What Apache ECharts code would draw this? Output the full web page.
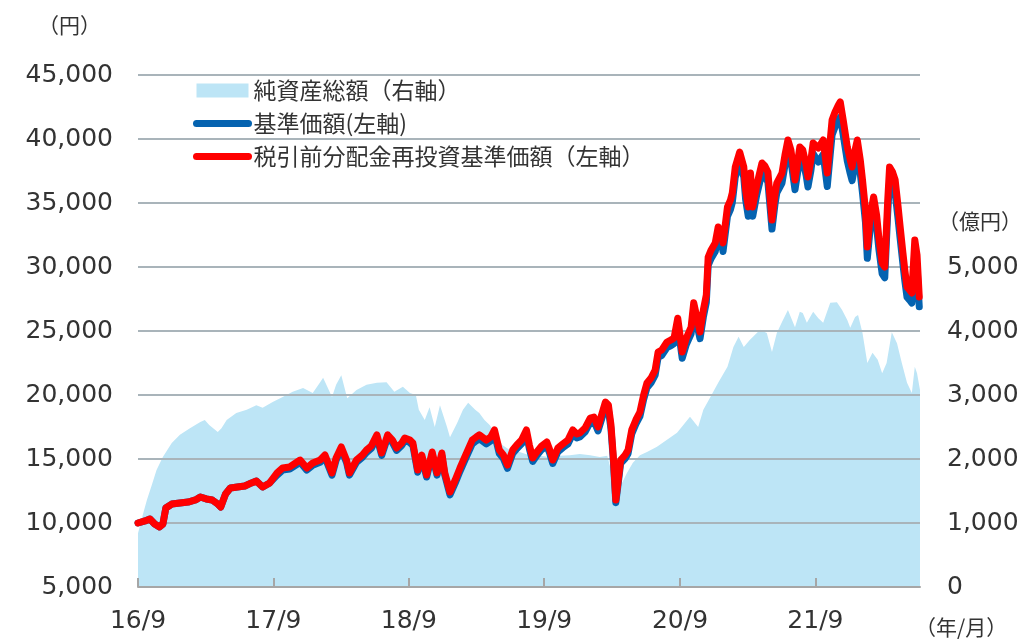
<!DOCTYPE html>
<html>
<head>
<meta charset="utf-8">
<title>基準価額・純資産総額の推移</title>
<script src="https://cdn.jsdelivr.net/npm/echarts/dist/echarts.min.js"></script>
<style>
  html, body { margin: 0; padding: 0; background: #fff; }
  #main { width: 1022px; height: 643px; }
</style>
</head>
<body>
<div id="main"></div>
<script>
// 基準価額 / 税引前分配金再投資基準価額 (円)
var priceDates = [
  '2016-09-01','2016-09-20','2016-10-03','2016-10-16','2016-10-29','2016-11-07','2016-11-15','2016-12-01','2016-12-23','2017-01-14',
  '2017-02-03','2017-02-16','2017-03-04','2017-03-20','2017-04-04','2017-04-12','2017-04-25','2017-05-08','2017-05-27','2017-06-16',
  '2017-07-04','2017-07-17','2017-08-03','2017-08-22','2017-09-11','2017-09-26','2017-10-15','2017-11-04','2017-11-12','2017-11-30',
  '2017-12-16','2018-01-05','2018-01-18','2018-02-06','2018-02-17','2018-03-03','2018-03-17','2018-03-25','2018-04-13','2018-04-29',
  '2018-05-10','2018-05-23','2018-06-07','2018-06-20','2018-07-06','2018-07-19','2018-07-30','2018-08-13','2018-08-21','2018-09-04',
  '2018-09-12','2018-09-25','2018-10-06','2018-10-19','2018-11-03','2018-11-16','2018-11-29','2018-12-07','2018-12-21','2019-01-04',
  '2019-01-17','2019-01-30','2019-02-19','2019-03-02','2019-03-10','2019-03-29','2019-04-10','2019-04-20','2019-05-03','2019-05-14',
  '2019-05-25','2019-06-08','2019-06-19','2019-07-02','2019-07-15','2019-07-23','2019-08-01','2019-08-12','2019-08-25','2019-09-08',
  '2019-09-16','2019-09-24','2019-10-08','2019-10-21','2019-11-04','2019-11-17','2019-11-28','2019-12-06','2019-12-20','2020-01-03',
  '2020-01-13','2020-01-24','2020-02-05','2020-02-13','2020-02-21','2020-02-28','2020-03-05','2020-03-12','2020-03-17','2020-03-25',
  '2020-04-06','2020-04-14','2020-04-24','2020-05-05','2020-05-16','2020-05-26','2020-06-04','2020-06-15','2020-06-26','2020-07-04',
  '2020-07-14','2020-07-28','2020-08-08','2020-08-16','2020-08-26','2020-09-07','2020-09-18','2020-10-01','2020-10-08','2020-10-17',
  '2020-10-25','2020-11-03','2020-11-11','2020-11-16','2020-11-24','2020-12-05','2020-12-13','2020-12-21','2020-12-26','2021-01-07',
  '2021-01-15','2021-01-20','2021-01-28','2021-02-09','2021-02-20','2021-02-25','2021-03-04','2021-03-10','2021-03-16','2021-03-27',
  '2021-04-10','2021-04-18','2021-04-26','2021-05-07','2021-05-15','2021-05-20','2021-06-03','2021-06-11','2021-06-19','2021-06-27',
  '2021-07-08','2021-07-16','2021-07-21','2021-07-29','2021-08-07','2021-08-12','2021-08-20','2021-08-26','2021-09-09','2021-09-22',
  '2021-10-03','2021-10-11','2021-10-16','2021-10-24','2021-11-02','2021-11-07','2021-11-15','2021-11-26','2021-12-04','2021-12-09',
  '2021-12-17','2021-12-23','2021-12-31','2022-01-06','2022-01-14','2022-01-19','2022-01-27','2022-02-05','2022-02-13','2022-02-19',
  '2022-02-28','2022-03-07','2022-03-15','2022-03-20','2022-03-28','2022-04-04','2022-04-12','2022-04-17','2022-04-25','2022-04-30',
  '2022-05-06','2022-05-13','2022-05-19','2022-05-24','2022-05-27','2022-06-02','2022-06-08'
];
var reinvestPrices = [
  10000,10160,10310,9920,9690,9920,11170,11480,11560,11640,
  11800,12030,11880,11800,11480,11250,12270,12730,12810,12890,
  13130,13280,12810,13130,13910,14300,14380,14770,14920,14300,
  14690,14920,15310,13910,15080,15940,14920,13910,14920,15310,
  15700,16020,16880,15470,16880,16480,15860,16250,16640,16480,
  16250,14140,15310,13750,15550,13910,15470,13910,12420,13360,
  14300,15160,16480,16720,16880,16480,16720,17270,15700,15310,
  14530,15700,16090,16480,17270,16090,15080,15550,16020,16330,
  15700,14920,15860,16170,16480,17270,16950,17030,17420,18200,
  18280,17500,18670,19450,19220,17660,15310,11800,12970,14920,
  15310,15700,17270,18050,18670,20000,20940,21330,21950,23360,
  23520,24140,24300,24450,26000,23360,24450,25310,27200,26020,
  24920,26640,27810,30780,31330,31880,33130,32730,31880,34690,
  35230,35780,37810,38980,37810,36020,34690,37340,34690,36410,
  38130,37890,37420,33670,35630,36560,37340,38750,39920,39140,
  36800,38360,39380,39140,37970,37030,38360,39690,39300,39920,
  37340,39920,41480,42110,42660,42900,41480,39380,38360,37810,
  39140,39920,38360,36800,34450,31560,34060,35470,34060,32340,
  30310,30000,35230,37810,37420,36800,34690,33280,31090,29770,
  28440,28200,27970,30550,32110,30940,27660
];
var basePrices = [
  10000,10160,10310,9920,9690,9920,11170,11480,11560,11640,
  11800,12030,11880,11800,11480,11250,12270,12730,12810,12890,
  13130,13280,12810,13130,13740,14130,14210,14590,14740,14130,
  14510,14740,15130,13740,14900,15750,14740,13740,14740,15130,
  15510,15830,16680,15280,16680,16280,15670,16060,16440,16280,
  16060,13970,15130,13590,15360,13740,15280,13740,12200,13120,
  14040,14890,16180,16420,16580,16180,16420,16960,15420,15030,
  14270,15420,15800,16180,16960,15800,14810,15270,15730,16040,
  15420,14650,15570,15880,16180,16960,16650,16720,17110,17870,
  17950,17190,18330,19100,18870,17340,15030,11590,12740,14650,
  15030,15420,16960,17730,18330,19640,20560,20950,21550,22940,
  23100,23710,23860,24010,25450,22870,23940,24780,26630,25470,
  24400,26080,27230,30130,30670,31210,32430,32040,31210,33960,
  34490,35030,37020,38160,37020,35260,33960,36560,33960,35650,
  37330,37090,36630,32960,34880,35790,36560,37940,39080,38320,
  36030,37550,38550,38320,37170,36250,37550,38860,38200,38800,
  36290,38800,40320,40930,41470,41700,40320,38280,37290,36750,
  38040,38800,37290,35770,33490,30680,33110,34480,33110,31430,
  29460,29160,34240,36750,36370,35770,33720,32350,30220,28940,
  27640,27410,27190,29700,31210,30070,26890
];

// 純資産総額 (億円)
var navDates = [
  '2016-09-01','2016-09-14','2016-09-25','2016-10-08','2016-10-21','2016-11-07','2016-12-01','2016-12-23','2017-01-19','2017-02-16',
  '2017-02-28','2017-03-12','2017-04-04','2017-04-14','2017-04-28','2017-05-24','2017-06-21','2017-07-17','2017-08-03','2017-08-30',
  '2017-09-26','2017-10-23','2017-11-20','2017-12-16','2018-01-05','2018-01-13','2018-02-06','2018-02-17','2018-03-03','2018-03-19',
  '2018-04-13','2018-05-10','2018-06-07','2018-07-03','2018-07-24','2018-08-16','2018-09-04','2018-09-20','2018-09-28','2018-10-14',
  '2018-10-27','2018-11-10','2018-11-24','2018-12-13','2018-12-21','2019-01-09','2019-01-25','2019-02-08','2019-02-27','2019-03-10',
  '2019-03-24','2019-04-07','2019-04-25','2019-05-11','2019-05-31','2019-06-27','2019-07-23','2019-08-20','2019-09-16','2019-10-13',
  '2019-11-09','2019-12-06','2020-01-03','2020-01-29','2020-02-18','2020-02-28','2020-03-12','2020-03-23','2020-04-11','2020-04-27',
  '2020-05-16','2020-06-04','2020-07-01','2020-07-28','2020-08-24','2020-09-10','2020-09-28','2020-10-20','2020-11-03','2020-11-22',
  '2020-12-13','2021-01-07','2021-01-23','2021-02-06','2021-02-20','2021-03-08','2021-04-05','2021-04-23','2021-05-07','2021-05-20',
  '2021-06-03','2021-06-19','2021-07-08','2021-07-21','2021-07-29','2021-08-09','2021-08-26','2021-09-09','2021-09-22','2021-10-11',
  '2021-10-29','2021-11-12','2021-11-26','2021-12-04','2021-12-17','2021-12-25','2022-01-06','2022-01-19','2022-02-02','2022-02-16',
  '2022-02-28','2022-03-12','2022-03-26','2022-04-09','2022-04-22','2022-05-06','2022-05-19','2022-05-27','2022-06-02','2022-06-10'
];
var navValues = [
  840,1130,1360,1590,1830,2030,2250,2380,2480,2580,
  2610,2530,2420,2480,2610,2720,2770,2840,2800,2890,
  2970,3050,3110,3030,3200,3270,2970,3160,3310,2950,
  3080,3160,3190,3200,3050,3130,3030,3000,2770,2610,
  2810,2500,2840,2500,2340,2560,2770,2880,2770,2720,
  2610,2530,2380,2220,2140,2110,2060,2050,2030,2050,
  2060,2080,2060,2030,2050,1830,1590,1560,1780,1940,
  2060,2110,2190,2300,2410,2530,2660,2500,2770,2970,
  3190,3440,3750,3910,3750,3860,4020,3970,3670,3970,
  4140,4330,4060,4300,4280,4130,4300,4200,4130,4440,
  4450,4330,4170,4050,4220,4250,3970,3500,3660,3550,
  3340,3500,3980,3810,3500,3190,3030,3440,3340,3080
];

// 目盛り
var xTickDates = ['2016-09-01','2017-09-01','2018-09-01','2019-09-01','2020-09-01','2021-09-01'];
var xStart = '2016-09-01';
var xEnd = '2022-06-10';

function toTime(s) {
  var p = s.split('-');
  return Date.UTC(+p[0], +p[1] - 1, +p[2]);
}
function pairs(dates, vals) {
  return dates.map(function (d, i) { return [toTime(d), vals[i]]; });
}

var chart = echarts.init(document.getElementById('main'));
var labelFont = 'DejaVu Sans';
var cjkFont = '"Noto Sans CJK JP", sans-serif';
var xTicks = xTickDates.map(toTime);

var option = {
  animation: false,
  grid: { left: 138, right: 102, top: 75, bottom: 56 },
  legend: {
    orient: 'vertical',
    left: 188,
    top: 74,
    itemWidth: 52,
    itemHeight: 14,
    itemGap: 10,
    z: 6,
    textStyle: { fontSize: 23, color: '#333', fontFamily: cjkFont },
    data: [
      { name: '純資産総額（右軸）', icon: 'rect', itemStyle: { color: '#bde5f6', borderWidth: 0 } },
      { name: '基準価額(左軸)', lineStyle: { width: 7, cap: 'round' }, itemStyle: { opacity: 0 } },
      { name: '税引前分配金再投資基準価額（左軸）', lineStyle: { width: 7, cap: 'round' }, itemStyle: { opacity: 0 } }
    ]
  },
  xAxis: {
    type: 'value',
    z: 4,
    min: toTime(xStart),
    max: toTime(xEnd),
    axisLine: { onZero: false, lineStyle: { color: '#a6a6a6', width: 2 } },
    axisTick: { inside: true, length: 9, customValues: xTicks, lineStyle: { color: '#a6a6a6', width: 2 } },
    axisLabel: {
      customValues: xTicks,
      margin: 22,
      fontSize: 25,
      color: '#333',
      fontFamily: labelFont,
      formatter: function (v) {
        var d = new Date(v);
        return String(d.getUTCFullYear()).slice(2) + '/' + (d.getUTCMonth() + 1);
      }
    },
    splitLine: { show: false }
  },
  yAxis: [
    {
      type: 'value',
      z: 2,  // 目盛線は面グラフの上、折れ線の下
      min: 5000,
      max: 45000,
      interval: 5000,
      axisLine: { show: false },
      axisTick: { show: false },
      axisLabel: {
        margin: 25, fontSize: 25, color: '#333', fontFamily: labelFont,
        formatter: function (v) { return v.toLocaleString('en-US'); }
      },
      splitLine: { show: true, lineStyle: { color: ['#a9b4ba'], width: 2, opacity: 1 } }
    },
    {
      type: 'value',
      position: 'right',
      min: 0,
      max: 8000,
      interval: 1000,
      axisLine: { show: false },
      axisTick: { show: false },
      axisLabel: {
        margin: 27, fontSize: 25, color: '#333', fontFamily: labelFont,
        formatter: function (v) { return v <= 5000 ? v.toLocaleString('en-US') : ''; }
      },
      splitLine: { show: false }
    }
  ],
  series: [
    {
      name: '純資産総額（右軸）',
      type: 'line',
      z: 1,
      yAxisIndex: 1,
      data: pairs(navDates, navValues),
      symbol: 'none',
      color: '#bde5f6',
      lineStyle: { width: 0 },
      areaStyle: { color: '#bde5f6', opacity: 1 }
    },
    {
      name: '基準価額(左軸)',
      type: 'line',
      z: 3,
      data: pairs(priceDates, basePrices),
      symbol: 'none',
      color: '#0563b0',
      lineStyle: { width: 7, join: 'round', cap: 'round' }
    },
    {
      name: '税引前分配金再投資基準価額（左軸）',
      type: 'line',
      z: 3,
      data: pairs(priceDates, reinvestPrices),
      symbol: 'none',
      color: '#ff0000',
      lineStyle: { width: 7, join: 'round', cap: 'round' }
    }
  ],
  graphic: [
    { type: 'text', left: 38, top: 15, style: { text: '（円）', fill: '#333', font: '21px "Noto Sans CJK JP"' } },
    { type: 'text', left: 938, top: 211, style: { text: '（億円）', fill: '#333', font: '21px "Noto Sans CJK JP"' } },
    { type: 'text', left: 915, top: 617, style: { text: '（年/月）', fill: '#333', font: '21px "Noto Sans CJK JP"' } }
  ]
};

chart.setOption(option);
window.addEventListener('resize', function () { chart.resize(); });
</script>
</body>
</html>
